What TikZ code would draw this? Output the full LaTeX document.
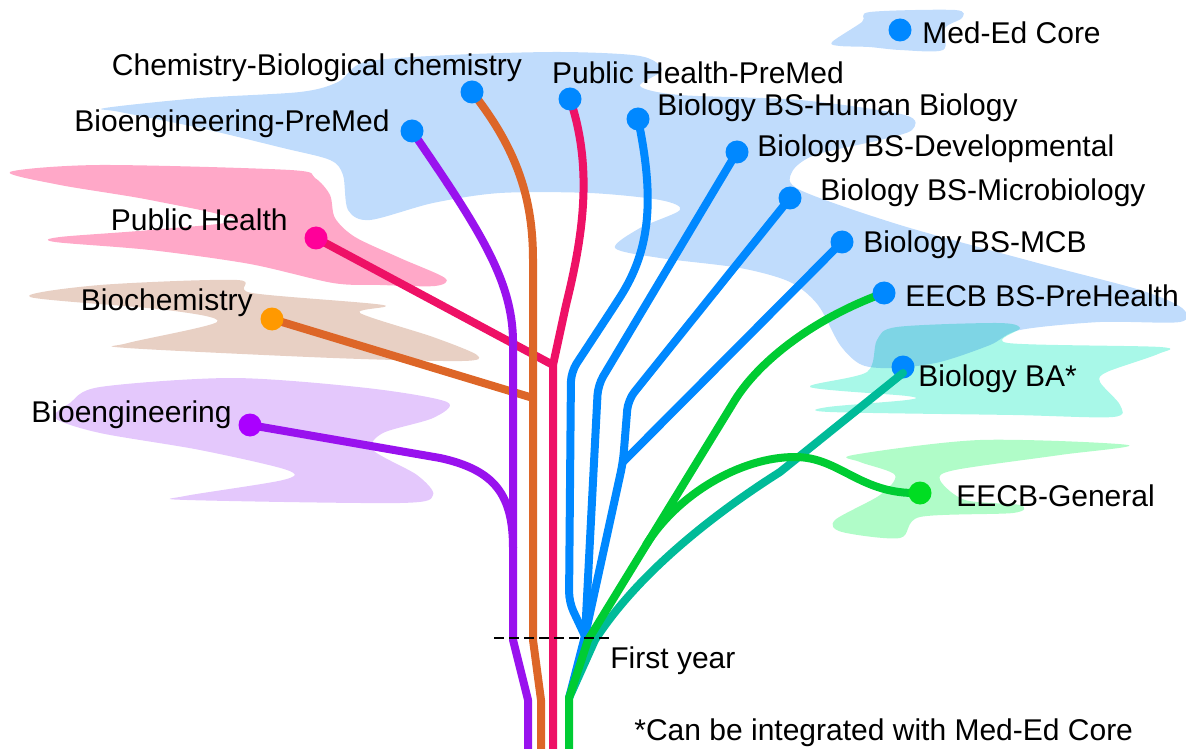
\documentclass[tikz,border=0pt]{standalone}
\usepackage{fontspec}
\setmainfont{Liberation Sans}
\usetikzlibrary{positioning}
\begin{document}
\begin{tikzpicture}[x=0.5pt,y=-0.5pt,
  track/.style={line width=4pt,line cap=round,line join=round},
  dot/.style={circle,inner sep=0pt,minimum size=11.5pt},
  lbl/.style={inner sep=0pt,yshift=-1.5pt,font=\fontsize{15}{18}\selectfont}]
\definecolor{cPurple}{HTML}{9912EE}
\definecolor{cPurpleDot}{HTML}{AA00FF}
\definecolor{cOrange}{HTML}{DD6628}
\definecolor{cOrangeDot}{HTML}{FF9900}
\definecolor{cRed}{HTML}{EE1166}
\definecolor{cRedDot}{HTML}{FF0099}
\definecolor{cBlue}{HTML}{0088FF}
\definecolor{cGreen}{HTML}{00CC33}
\definecolor{cGreenDot}{HTML}{00DD22}
\definecolor{cTeal}{HTML}{00BB99}
\definecolor{bgBlue}{HTML}{C0DCFC}
\definecolor{bgPink}{HTML}{FFA8C8}
\definecolor{bgTan}{HTML}{E8D0C4}
\definecolor{bgLav}{HTML}{E4C8FC}
\definecolor{bgCyan}{HTML}{A8F8E8}
\definecolor{bgGreen}{HTML}{B0FCC8}
\useasboundingbox (0,0) rectangle (1186,748);
% background clouds
\begin{scope}[blend mode=multiply]
\fill[bgBlue] plot[smooth cycle,tension=.5] coordinates {(832,42) (862,22) (870,12) (955,10) (962,18) (945,28) (943,50) (900,50) (869,47) (840,46)};
\fill[bgBlue] plot[smooth cycle,tension=.5] coordinates {(105,108) (200,98) (300,92) (338,82) (365,62) (450,55) (560,52) (640,56) (662,70) (640,86) (680,95) (800,100) (905,115) (912,130) (880,140) (815,155) (792,172) (800,190) (900,225) (1034,262) (1140,290) (1182,308) (1180,322) (1100,322) (1020,330) (990,345) (940,362) (895,368) (862,365) (840,345) (818,305) (790,282) (740,268) (660,258) (615,248) (640,228) (680,210) (660,200) (590,193) (500,193) (433,203) (370,220) (348,210) (343,175) (330,160) (283,148) (200,128) (120,112)};
\fill[bgPink] plot[smooth cycle,tension=.5] coordinates {(10,172) (100,165) (290,170) (315,178) (330,195) (335,218) (355,237) (400,258) (445,278) (435,286) (380,285) (333,283) (250,264) (150,250) (55,242) (60,237) (150,230) (235,220) (150,200) (60,185)};
\fill[bgTan] plot[smooth cycle,tension=.5] coordinates {(30,297) (100,285) (237,280) (252,293) (383,305) (360,313) (433,337) (477,355) (462,361) (333,358) (127,348) (128,343) (217,322) (167,310)};
\fill[bgLav] plot[smooth cycle,tension=.5] coordinates {(55,418) (70,403) (100,387) (233,378) (367,388) (447,402) (433,418) (383,433) (373,450) (417,475) (433,495) (400,503) (187,500) (185,496) (283,480) (287,470) (200,450) (100,433)};
\fill[bgCyan] plot[smooth cycle,tension=.5] coordinates {(810,387) (867,372) (877,340) (897,327) (997,323) (1020,328) (1008,343) (1160,347) (1158,354) (1107,372) (1100,382) (1120,405) (1113,417) (1013,415) (830,412) (828,407) (907,400) (907,396)};
\fill[bgGreen] plot[smooth cycle,tension=.5] coordinates {(853,455) (980,440) (1128,445) (1060,455) (955,470) (940,480) (965,500) (1020,505) (1013,513) (920,517) (900,538) (842,532) (835,520) (880,495) (895,475) (860,462)};
\end{scope}
% ends of the branches
\coordinate (medP) at (900,30);
\coordinate (chP) at (472,92);
\coordinate (phmP) at (570,99);
\coordinate (hbP) at (638,119);
\coordinate (bpP) at (412,131);
\coordinate (devP) at (737,152);
\coordinate (micP) at (790,198);
\coordinate (mcbP) at (842,242);
\coordinate (ehP) at (884,293);
\coordinate (baP) at (903,367);
\coordinate (baE) at (903,373);
\coordinate (egP) at (920,493);
\coordinate (phP) at (316,238);
\coordinate (bcP) at (272,319);
\coordinate (beP) at (250,425);
% forks
\coordinate (jRed) at (553,365);
\coordinate (jOr) at (533,398);
\coordinate (jPur) at (513,548);
\coordinate (jMic) at (623,462);
\coordinate (jBlue) at (585,636);
\coordinate (jGreen) at (588,640);
\coordinate (jEG) at (646,545);
\coordinate (jLow) at (569,698);
\coordinate (bPur) at (528,760);
\coordinate (bOr) at (541,760);
\coordinate (bRed) at (553,760);
\coordinate (bGreen) at (569,760);
\coordinate (fyA) at (494,638);
\coordinate (fyB) at (612,638);
% red
\draw[track,cRed] (phP) -- (jRed);
\draw[track,cRed] (bRed) -- (jRed) -- (566,305) .. controls (582,240) and (594,170) .. (phmP);
% orange
\draw[track,cOrange] (bcP) -- (jOr);
\draw[track,cOrange] (bOr) -- (541,700) -- (533,640) -- (jOr) -- (533,260) .. controls (533,200) and (518,150) .. (chP);
% purple
\draw[track,cPurple] (beP) -- (440,458) .. controls (495,470) and (513,495) .. (jPur);
\draw[track,cPurple] (bPur) -- (528,700) -- (513,640) -- (jPur) -- (513,340) .. controls (512,280) and (480,230) .. (bpP);
% blue
\draw[track,cBlue,rounded corners=5pt] (hbP) .. controls (655,200) and (650,250) .. (615,305) -- (571,372) -- (569,602) -- (jBlue);
\draw[track,cBlue,rounded corners=5pt] (devP) -- (598,385) -- (jBlue);
\draw[track,cBlue,rounded corners=5pt] (micP) -- (628,400) -- (jMic) -- (jBlue) -- (jLow);
\draw[track,cBlue] (mcbP) -- (jMic);
\node[dot,fill=cBlue] (baD) at (baP) {};
% teal and green
\draw[track,cTeal] (baE) -- (780,472) .. controls (720,510) and (640,570) .. (595,640) -- (jLow);
\draw[track,cGreen] (ehP) .. controls (815,318) and (760,360) .. (735,400) -- (jGreen) -- (jLow) -- (bGreen);
\draw[track,cGreen] (egP) .. controls (860,495) and (840,457) .. (795,457) .. controls (740,457) and (677,495) .. (jEG);
% dots
\node[dot,fill=cBlue] (medD) at (medP) {};
\node[dot,fill=cBlue] (chD) at (chP) {};
\node[dot,fill=cBlue] (phmD) at (phmP) {};
\node[dot,fill=cBlue] (hbD) at (hbP) {};
\node[dot,fill=cBlue] (bpD) at (bpP) {};
\node[dot,fill=cBlue] (devD) at (devP) {};
\node[dot,fill=cBlue] (micD) at (micP) {};
\node[dot,fill=cBlue] (mcbD) at (mcbP) {};
\node[dot,fill=cBlue] (ehD) at (ehP) {};
\node[dot,fill=cGreenDot] (egD) at (egP) {};
\node[dot,fill=cRedDot] (phD) at (phP) {};
\node[dot,fill=cOrangeDot] (bcD) at (bcP) {};
\node[dot,fill=cPurpleDot] (beD) at (beP) {};
\draw[line width=1.3pt,dash pattern=on 5pt off 2.5pt] (fyA) -- (fyB);
% labels
\node[lbl,right=5pt of medD] (medL) {Med-Ed Core};
\node[lbl] (chL) at (317,65) {Chemistry-Biological chemistry};
\node[lbl] (phmL) at (698,70) {Public Health-PreMed};
\node[lbl,anchor=west] (hbL) at (657,105) {Biology BS-Human Biology};
\node[lbl,anchor=east] (bpL) at (390,121) {Bioengineering-PreMed};
\node[lbl,anchor=west] (devL) at (757,146) {Biology BS-Developmental};
\node[lbl,anchor=west] (micL) at (820,190) {Biology BS-Microbiology};
\node[lbl,right=4.5pt of mcbD] (mcbL) {Biology BS-MCB};
\node[lbl,right=4.5pt of ehD] (ehL) {EECB BS-PreHealth};
\node[lbl,anchor=west] (baL) at (918,376) {Biology BA*};
\node[lbl,right=12pt of egD] (egL) {EECB-General};
\node[lbl,anchor=east] (phL) at (288,217) {Public Health};
\node[lbl,anchor=east] (bcL) at (253,300) {Biochemistry};
\node[lbl,anchor=east] (beL) at (232,412) {Bioengineering};
\node[lbl,anchor=west] (fyL) at (610,658) {First year};
\node[lbl,anchor=west] (noteL) at (634,730) {*Can be integrated with Med-Ed Core};
\end{tikzpicture}
\end{document}
